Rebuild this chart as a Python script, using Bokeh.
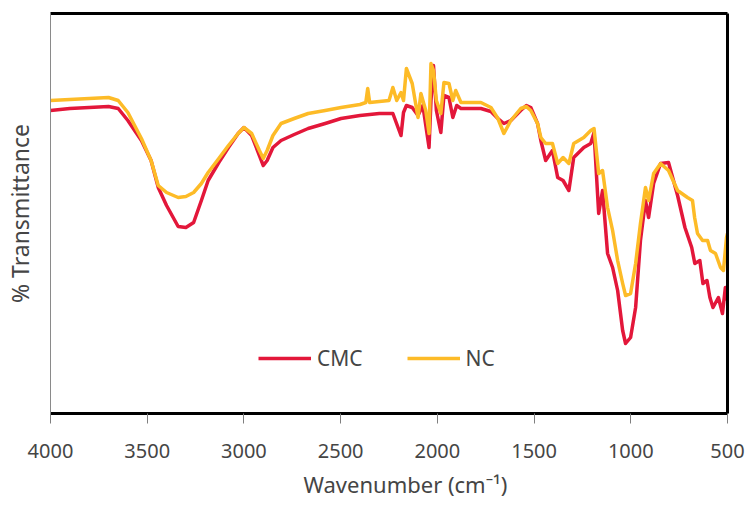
from bokeh.plotting import figure
from bokeh.models import Range1d, FixedTicker, LinearAxis, Legend, LegendItem, Title
from bokeh.embed import file_html
from bokeh.resources import INLINE

series_names = ["CMC", "NC"]
x_ticks = [4000, 3500, 3000, 2500, 2000, 1500, 1000, 500]

wn_cmc = [4000, 3900, 3800, 3700, 3650, 3600, 3530, 3480, 3443, 3400, 3340, 3300,
          3260, 3220, 3185, 3130, 3080, 3030, 3000, 2960, 2920, 2900, 2880, 2850,
          2808, 2740, 2668, 2580, 2498, 2400, 2300, 2230, 2188, 2175, 2160, 2130,
          2100, 2075, 2043, 2033, 2020, 2005, 1982, 1966, 1940, 1920, 1900, 1878,
          1775, 1723, 1687, 1656, 1620, 1569, 1540, 1517, 1482, 1465, 1440, 1405,
          1378, 1350, 1320, 1295, 1243, 1207, 1190, 1166, 1146, 1120, 1094, 1068,
          1042, 1027, 1001, 975, 950, 924, 908, 882, 846, 805, 758, 720, 685, 669,
          643, 627, 606, 591, 575, 547, 526, 511, 500]
t_cmc = [75.75, 76.25, 76.5, 76.75, 76.25, 73.25, 68.25, 63.25, 56.5, 52.0, 46.75, 46.5,
         47.75, 53.25, 58.25, 62.75, 66.5, 70.0, 71.5, 69.5, 64.5, 62.0, 63.25, 66.5,
         68.25, 69.75, 71.25, 72.5, 73.75, 74.5, 75.0, 75.0, 69.5, 75.25, 77.0, 76.5,
         74.5, 77.0, 66.5, 78.25, 87.0, 75.75, 70.25, 79.5, 79.0, 74.0, 77.0, 76.25,
         76.25, 75.5, 73.75, 72.5, 73.25, 75.75, 77.0, 76.5, 72.5, 68.25, 63.25, 65.75,
         59.0, 58.25, 55.75, 64.0, 66.5, 67.5, 70.25, 50.0, 55.75, 40.0, 36.5, 30.75,
         20.75, 17.5, 19.0, 26.5, 43.25, 53.25, 49.0, 57.5, 62.5, 62.75, 54.5, 46.5,
         41.5, 37.5, 38.25, 32.5, 33.25, 29.0, 26.5, 29.0, 25.0, 31.5, 28.25]

wn_nc = [4000, 3900, 3800, 3700, 3650, 3600, 3530, 3480, 3443, 3400, 3340, 3300,
         3260, 3220, 3185, 3130, 3080, 3030, 3000, 2960, 2920, 2900, 2880, 2850,
         2808, 2740, 2668, 2580, 2498, 2400, 2370, 2360, 2350, 2300, 2250, 2230,
         2210, 2188, 2175, 2160, 2140, 2130, 2100, 2085, 2060, 2043, 2033, 2020,
         2005, 1982, 1966, 1940, 1920, 1905, 1878, 1775, 1723, 1687, 1656, 1620,
         1569, 1540, 1517, 1482, 1465, 1440, 1405, 1378, 1350, 1320, 1295, 1243,
         1207, 1190, 1166, 1146, 1120, 1094, 1068, 1042, 1027, 1001, 975, 950, 924,
         908, 882, 846, 805, 758, 707, 681, 670, 655, 629, 603, 588, 562, 536, 521,
         505, 500]
t_nc = [78.25, 78.5, 78.75, 79.0, 78.25, 75.25, 68.75, 63.25, 57.0, 55.25, 54.0, 54.25,
        55.25, 57.5, 60.25, 63.75, 67.0, 70.0, 71.5, 70.0, 65.75, 63.75, 65.75, 69.5,
        72.5, 73.75, 75.0, 75.75, 76.5, 77.25, 77.75, 81.25, 77.75, 78.0, 78.25, 81.5,
        78.25, 80.25, 78.25, 86.25, 83.75, 82.5, 74.0, 80.0, 75.75, 70.0, 87.5, 85.75,
        78.25, 75.0, 82.75, 82.5, 78.25, 80.75, 77.75, 77.75, 76.5, 73.75, 70.0, 73.25,
        76.25, 76.75, 75.75, 72.5, 69.0, 67.5, 67.5, 62.5, 64.0, 62.5, 67.5, 69.0,
        70.75, 71.25, 60.0, 60.75, 51.5, 45.75, 38.25, 32.5, 29.5, 30.0, 37.5, 47.5, 56.5,
        53.25, 60.0, 62.5, 60.75, 55.75, 54.0, 53.25, 49.0, 45.0, 43.25, 43.25, 40.75,
        40.0, 36.5, 35.75, 44.0, 45.0]

RED = "#E3173A"
YELLOW = "#FDBB27"
FONT = "Noto Sans"
TXT = "#454545"

p = figure(width=745, height=505, output_backend="svg", toolbar_location=None,
           x_range=Range1d(4000, 500), y_range=Range1d(0, 100),
           min_border_left=49, min_border_right=18, min_border_top=13,
           min_border_bottom=92, x_axis_location=None, y_axis_location=None)
p.grid.visible = False
p.outline_line_color = None
p.background_fill_color = "white"
p.border_fill_color = "white"

r1 = p.line(wn_cmc, t_cmc, line_color=RED, line_width=3.5, line_join="round")
r2 = p.line(wn_nc, t_nc, line_color=YELLOW, line_width=3.5, line_join="round")

xb = LinearAxis(ticker=FixedTicker(ticks=x_ticks))
xb.axis_line_color = "black"
xb.axis_line_width = 3
xb.major_tick_line_color = "#7f7f7f"
xb.major_tick_out = 10
xb.major_tick_in = 0
xb.minor_tick_line_color = None
xb.major_label_standoff = 20
xb.major_label_text_font = FONT
xb.major_label_text_font_size = "20px"
xb.major_label_text_color = TXT
p.add_layout(xb, "below")

xtitle = Title(text="Wavenumber (cm\u207b\u00b9)", align="left", offset=253,
               text_font=FONT, text_font_size="22px", text_font_style="normal",
               text_color=TXT, standoff=13)
p.add_layout(xtitle, "below")

yl = LinearAxis(ticker=FixedTicker(ticks=[]), axis_label="% Transmittance")
yl.axis_line_color = "#8a8a8a"
yl.axis_line_width = 1
yl.major_tick_line_color = None
yl.minor_tick_line_color = None
yl.axis_label_standoff = 15
yl.axis_label_text_font = FONT
yl.axis_label_text_font_size = "23px"
yl.axis_label_text_font_style = "normal"
yl.axis_label_text_color = TXT
p.add_layout(yl, "left")

for loc in ("above", "right"):
    ax = LinearAxis(ticker=FixedTicker(ticks=[]))
    ax.axis_line_color = "black"
    ax.axis_line_width = 3
    ax.major_tick_line_color = None
    ax.minor_tick_line_color = None
    ax.major_label_text_font_size = "0px"
    p.add_layout(ax, loc)

legend = Legend(items=[LegendItem(label=series_names[0], renderers=[r1]),
                       LegendItem(label=series_names[1], renderers=[r2])],
                orientation="horizontal", location=(208, 41))
legend.glyph_width = 53
legend.label_standoff = 6
legend.spacing = 44
legend.padding = 0
legend.margin = 0
legend.label_text_font = FONT
legend.label_text_font_size = "21px"
legend.label_text_color = TXT
legend.background_fill_alpha = 0
legend.border_line_alpha = 0
p.add_layout(legend, "center")

open("out.html", "w").write(file_html(p, INLINE))
